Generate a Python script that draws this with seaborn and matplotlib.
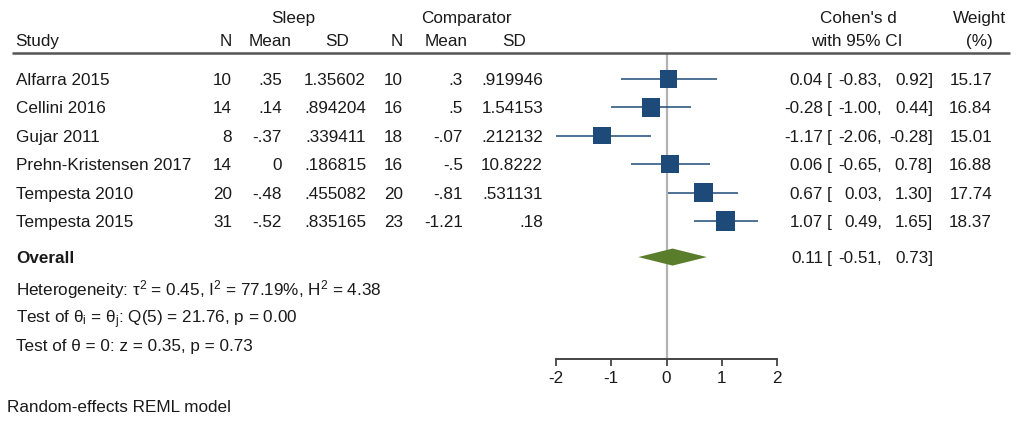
import numpy as np
import pandas as pd
import matplotlib
matplotlib.use("Agg")
import matplotlib.pyplot as plt
import matplotlib.transforms as mtransforms
import seaborn as sns

# ---------------- data ----------------
studies = ["Alfarra 2015", "Cellini 2016", "Gujar 2011",
           "Prehn-Kristensen 2017", "Tempesta 2010", "Tempesta 2015"]
sleep_n = ["10", "14", "8", "14", "20", "31"]
sleep_mean = [".35", ".14", "-.37", "0", "-.48", "-.52"]
sleep_sd = ["1.35602", ".894204", ".339411", ".186815", ".455082", ".835165"]
comp_n = ["10", "16", "18", "16", "20", "23"]
comp_mean = [".3", ".5", "-.07", "-.5", "-.81", "-1.21"]
comp_sd = [".919946", "1.54153", ".212132", "10.8222", ".531131", ".18"]
effect = [0.04, -0.28, -1.17, 0.06, 0.67, 1.07]
ci_low = [-0.83, -1.00, -2.06, -0.65, 0.03, 0.49]
ci_high = [0.92, 0.44, -0.28, 0.78, 1.30, 1.65]
weight = [15.17, 16.84, 15.01, 16.88, 17.74, 18.37]
overall_label = "Overall"
overall_effect = 0.11
overall_low = -0.51
overall_high = 0.73
x_ticks = [-2, -1, 0, 1, 2]
stats_lines = [
    "Heterogeneity: \u03c4$^{2}$ = 0.45, I$^{2}$ = 77.19%, H$^{2}$ = 4.38",
    "Test of \u03b8$_{\\mathrm{i}}$ = \u03b8$_{\\mathrm{j}}$: Q(5) = 21.76, p = 0.00",
    "Test of \u03b8 = 0: z = 0.35, p = 0.73",
]
footnote = "Random-effects REML model"

# ---------------- style ----------------
sns.set_style("white")
plt.rcParams["font.family"] = ["Liberation Sans", "DejaVu Sans"]
plt.rcParams["mathtext.fontset"] = "custom"
plt.rcParams["mathtext.rm"] = "Liberation Sans"
plt.rcParams["mathtext.it"] = "Liberation Sans:italic"
plt.rcParams["mathtext.bf"] = "Liberation Sans:bold"

W, H = 1021, 422
fig = plt.figure(figsize=(W / 100, H / 100), dpi=100)

# forest axes: x from -2..2 maps to pixel 556..777
x0_px, x1_px = 556, 777
ax = fig.add_axes([x0_px / W, 0, (x1_px - x0_px) / W, 1])
ax.set_xlim(-2, 2)
row0_px, row_step = 79, 28.4
ax.set_ylim((H - row0_px) / row_step, -row0_px / row_step)

text_color = "#1a1a1a"
fs = 12.3
sq_color = "#1d4a78"
dia_color = "#5a7d2c"

rows = np.arange(len(studies))
df = pd.DataFrame({"study": studies, "row": rows, "effect": effect,
                   "low": ci_low, "high": ci_high, "weight": weight})

# layout (row units)
y_rule = -0.9
y_axis = 9.85
y_h1, y_h2 = -2.18, -1.37
y_ov = 6.27
y_stats = [7.33, 8.35, 9.37]
y_foot = 11.5

# null line
ax.vlines(0, y_rule, y_axis, color="#b3b3b3", lw=1.6, zorder=1)

# whiskers
ax.hlines(df["row"], df["low"], df["high"], color=sq_color, lw=1.1, zorder=2)
# squares
sns.scatterplot(data=df, x="effect", y="row", size="weight",
                sizes=(155, 195), size_norm=(min(weight), max(weight)),
                marker="s", color=sq_color, edgecolor=sq_color, linewidth=0,
                legend=False, ax=ax, zorder=3)

# overall diamond
hh = 0.3
ax.fill([overall_low, overall_effect, overall_high, overall_effect],
        [y_ov, y_ov - hh, y_ov, y_ov + hh], color=dia_color, lw=0, zorder=3)

# axis styling
for s in ["top", "right", "left"]:
    ax.spines[s].set_visible(False)
ax.spines["bottom"].set_position(("data", y_axis))
ax.spines["bottom"].set_bounds(-2, 2)
ax.spines["bottom"].set_color("#444444")
ax.spines["bottom"].set_linewidth(1.4)
ax.set_xticks(x_ticks)
ax.set_xticklabels([str(t) for t in x_ticks], fontsize=fs, color=text_color)
ax.tick_params(axis="x", bottom=True, direction="out", length=5, width=1.3,
               color="#444444", pad=4)
ax.set_yticks([])
ax.set_xlabel("")
ax.set_ylabel("")
ax.patch.set_alpha(0)

# text helpers (x in pixels, y in row units)
tr = mtransforms.blended_transform_factory(fig.transFigure, ax.transData)


def put(xpx, y, s, ha="left", **kw):
    ax.text(xpx / W, y, s, transform=tr, ha=ha, va="center_baseline",
            fontsize=kw.pop("fontsize", fs), color=kw.pop("color", text_color),
            clip_on=False, **kw)


# headers
put(293, y_h1, "Sleep", ha="center")
put(466, y_h1, "Comparator", ha="center")
put(858, y_h1, "Cohen's d", ha="center")
put(979, y_h1, "Weight", ha="center")
put(15, y_h2, "Study")
put(232, y_h2, "N", ha="right")
put(270, y_h2, "Mean", ha="center")
put(337, y_h2, "SD", ha="center")
put(403, y_h2, "N", ha="right")
put(446, y_h2, "Mean", ha="center")
put(514, y_h2, "SD", ha="center")
put(857, y_h2, "with 95% CI", ha="center")
put(979, y_h2, "(%)", ha="center")

# header rule
ax.plot([12 / W, 1010 / W], [y_rule, y_rule], transform=tr, color="#555555",
        lw=1.8, clip_on=False, solid_capstyle="butt")


def ci_text(y, e, lo, hi):
    put(823, y, f"{e:.2f}", ha="right")
    put(827, y, "[", ha="left")
    put(882, y, f"{lo:.2f},", ha="right")
    put(933, y, f"{hi:.2f}]", ha="right")


for i in rows:
    put(16, i, studies[i])
    put(232, i, sleep_n[i], ha="right")
    put(282, i, sleep_mean[i], ha="right")
    put(366, i, sleep_sd[i], ha="right")
    put(403, i, comp_n[i], ha="right")
    put(463, i, comp_mean[i], ha="right")
    put(543, i, comp_sd[i], ha="right")
    ci_text(i, effect[i], ci_low[i], ci_high[i])
    put(992, i, f"{weight[i]:.2f}", ha="right")

put(16, y_ov, overall_label, fontweight="bold")
ci_text(y_ov, overall_effect, overall_low, overall_high)

for k, line in enumerate(stats_lines):
    put(16, y_stats[k], line)

put(7, y_foot, footnote)

fig.savefig("out.png", dpi=100)
